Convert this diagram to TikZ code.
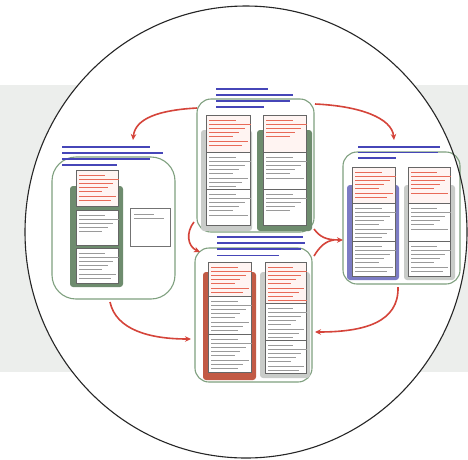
\documentclass[tikz,border=0pt]{standalone}
\usetikzlibrary{arrows.meta}
\definecolor{band}{HTML}{ECEEEC}
\definecolor{grp}{HTML}{7FA07F}
\definecolor{dgreen}{HTML}{6E8C6E}
\definecolor{purp}{HTML}{7C7CC4}
\definecolor{brick}{HTML}{C25A45}
\definecolor{holdgray}{HTML}{C9CCC9}
\definecolor{ttl}{HTML}{4646B8}
\definecolor{rtxt}{HTML}{E86A58}
\definecolor{ktxt}{HTML}{9A9A9A}
\definecolor{arr}{HTML}{D5443A}
\definecolor{pinkfill}{HTML}{FFF4F2}
\tikzset{
 grpline/.style={draw=grp, line width=1.1pt, rounded corners=14pt, inner sep=0pt},
 holder/.style={rounded corners=3pt},
 cell/.style={draw=black!60, fill=white, line width=0.6pt},
 ttlline/.style={ttl, line width=1.35pt},
 redline/.style={rtxt, line width=0.95pt},
 txtline/.style={ktxt, line width=0.75pt},
 flow/.style={arr, line width=1.6pt, -{Stealth[length=6pt,width=5.5pt]}},
 flowplain/.style={arr, line width=1.6pt},
}
% text-like strokes: style, x1, x2, y1, n, dy
\newcommand{\tlines}[6]{%
 \foreach \i in {1,...,#5}{%
   \pgfmathsetmacro\ll{(#3-#2)*(0.55+0.4*mod(\i*5+3,7)/6)}%
   \draw[#1] (#2,{#4+(\i-1)*#6}) -- ++(\ll,0);
 }}
% cell: x1,y1,x2,y2,line style,n
\newcommand{\cellbox}[6]{%
 \draw[cell] (#1,#2) rectangle (#3,#4);
 \tlines{#5}{#1+3}{#3-3}{#2+5}{#6}{4.2}}
\newcommand{\redcell}[5]{%
 \draw[cell, fill=pinkfill] (#1,#2) rectangle (#3,#4);
 \tlines{redline}{#1+3}{#3-3}{#2+5}{#5}{4.2}}
\begin{document}
\begin{tikzpicture}[x=1pt,y=-1pt]
\useasboundingbox (0,0) rectangle (468,459);
\fill[white] (0,0) rectangle (468,459);
\fill[band] (0,85) rectangle (468,372);
\fill[white] (246,232) ellipse [x radius=221, y radius=226];

% ---------- group outlines ----------
\node[grpline, minimum width=117pt, minimum height=133pt] (T) at (255.5,165.5) {};
\node[grpline, minimum width=123pt, minimum height=142pt, rounded corners=24pt] (L) at (113.5,228) {};
\node[grpline, minimum width=117pt, minimum height=132pt] (R) at (401.5,218) {};
\node[grpline, minimum width=117pt, minimum height=134pt] (B) at (253.5,315) {};

% ---------- top group ----------
\fill[holdgray, holder] (201,130) rectangle (252,231);
\fill[dgreen, holder] (257,130) rectangle (312,231);
\redcell{206}{115}{250}{152}{7}
\cellbox{206}{152}{250}{189}{txtline}{8}
\cellbox{206}{189}{250}{225}{txtline}{6}
\redcell{263}{115}{306}{152}{5}
\cellbox{263}{152}{306}{189}{txtline}{6}
\cellbox{263}{189}{306}{225}{txtline}{5}
\draw[ttlline] (216,89) -- ++(52,0);
\draw[ttlline] (216,95) -- ++(77,0);
\draw[ttlline] (216,101) -- ++(74,0);
\draw[ttlline] (216,107) -- ++(48,0);

% ---------- left group ----------
\fill[dgreen, holder] (70,186) rectangle (123,287);
\redcell{76}{170}{118}{206}{7}
\cellbox{76}{210}{118}{245}{txtline}{5}
\cellbox{76}{248}{118}{283}{txtline}{7}
\draw[black!55, line width=0.8pt, fill=white] (130,208) rectangle (170,246);
\tlines{txtline}{134}{166}{214}{2}{4.2}
\draw[ttlline] (62,147) -- ++(88,0);
\draw[ttlline] (62,153) -- ++(101,0);
\draw[ttlline] (62,159) -- ++(88,0);
\draw[ttlline] (62,165) -- ++(55,0);

% ---------- right group ----------
\fill[purp, holder] (347,185) rectangle (399,280);
\fill[holdgray, holder] (404,185) rectangle (455,280);
\redcell{352}{167}{395}{203}{7}
\cellbox{352}{203}{395}{241}{txtline}{8}
\cellbox{352}{241}{395}{276}{txtline}{7}
\redcell{408}{167}{450}{203}{6}
\cellbox{408}{203}{450}{241}{txtline}{6}
\cellbox{408}{241}{450}{276}{txtline}{7}
\draw[ttlline] (358,147) -- ++(82,0);
\draw[ttlline] (358,152.5) -- ++(80,0);
\draw[ttlline] (358,158) -- ++(38,0);

% ---------- bottom group ----------
\fill[brick, holder] (203,272) rectangle (256,380);
\fill[holdgray, holder] (260,272) rectangle (310,378);
\redcell{208}{262}{251}{296}{7}
\cellbox{208}{296}{251}{334}{txtline}{8}
\cellbox{208}{334}{251}{372}{txtline}{8}
\redcell{265}{262}{306}{303}{9}
\cellbox{265}{303}{306}{340}{txtline}{8}
\cellbox{265}{340}{306}{373}{txtline}{7}
\draw[ttlline] (217,237) -- ++(86,0);
\draw[ttlline] (217,243) -- ++(88,0);
\draw[ttlline] (217,249) -- ++(84,0);
\draw[ttlline] (217,255.5) -- ++(62,0);

% ---------- connectors ----------
\coordinate (a1s) at (197,108);
\coordinate (a1e) at (133,140);
\coordinate (a2s) at (315,104);
\coordinate (a2e) at (394,140);
\coordinate (a3s) at (194,222);
\coordinate (a3e) at (200,252);
\coordinate (a4u) at (314,229);
\coordinate (a4d) at (314,256);
\coordinate (a4m) at (334,240);
\coordinate (a4e) at (343,240);
\coordinate (a5s) at (398,287);
\coordinate (a5e) at (315,332);
\coordinate (a6s) at (110,302);
\coordinate (a6e) at (191,339);
\draw[flow] (a1s) .. controls (160,110) and (135,118) .. (a1e);
\draw[flow] (a2s) .. controls (360,106) and (392,118) .. (a2e);
\draw[flow] (a3s) .. controls (186,232) and (187,246) .. (a3e);
\draw[flow] (a4u) .. controls (320,237) and (326,240) .. (a4e);
\draw[flowplain] (a4d) .. controls (320,246) and (326,241) .. (a4m);
\draw[flow] (a5s) .. controls (399,322) and (365,332) .. (a5e);
\draw[flow] (a6s) .. controls (116,330) and (150,339) .. (a6e);

% ---------- circle ----------
\draw[black!85, line width=1.1pt] (246,232) ellipse [x radius=221, y radius=226];
\end{tikzpicture}
\end{document}
